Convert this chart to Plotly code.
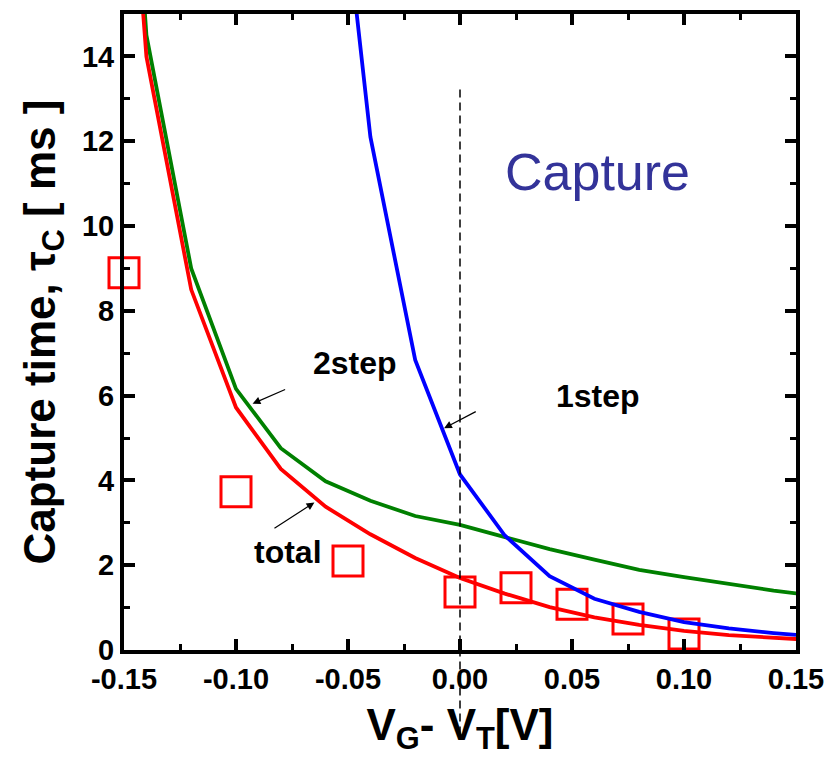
import plotly.graph_objects as go

# Gate overdrive grid for the model curves (V)
v_grid = [-0.16, -0.14, -0.12, -0.10, -0.08, -0.06, -0.04, -0.02, 0.00,
          0.02, 0.04, 0.06, 0.08, 0.10, 0.12, 0.14, 0.16]
# Model capture times (ms)
tau_total = [28.0, 14.0, 8.5, 5.72, 4.27, 3.38, 2.73, 2.17, 1.70,
             1.33, 1.01, 0.77, 0.59, 0.45, 0.35, 0.28, 0.23]
tau_2step = [30.0, 14.5, 9.0, 6.16, 4.76, 3.98, 3.52, 3.16, 2.95,
             2.67, 2.38, 2.13, 1.89, 1.72, 1.55, 1.40, 1.27]
v_1step = [-0.06, -0.04, -0.02, 0.00, 0.02, 0.04, 0.06, 0.08, 0.10, 0.12, 0.14, 0.16]
tau_1step = [21.6, 12.1, 6.84, 4.14, 2.70, 1.74, 1.21, 0.90, 0.66, 0.51, 0.40, 0.31]

# Measured capture times (ms)
v_meas = [-0.15, -0.10, -0.05, 0.0, 0.025, 0.05, 0.075, 0.10]
tau_meas = [8.9, 3.73, 2.10, 1.37, 1.47, 1.08, 0.73, 0.38]

# Axis ticks
x_ticks = [-0.15, -0.10, -0.05, 0.00, 0.05, 0.10, 0.15]
x_ticktext = ["-0.15", "-0.10", "-0.05", "0.00", "0.05", "0.10", "0.15"]
y_ticks = [0, 2, 4, 6, 8, 10, 12, 14]
y_ticktext = ["0", "2", "4", "6", "8", "10", "12", "14"]

X_RANGE = [-0.15, 0.15]
Y_RANGE = [0, 15]
DASH_TOP = 13.3  # upper end of the V_G = V_T marker line

FONT = "Liberation Sans, Arial, sans-serif"

fig = go.Figure()

fig.add_trace(go.Scatter(x=v_meas, y=tau_meas, mode="markers",
                         marker=dict(symbol="square-open", size=30, color="#ff0000",
                                     line=dict(width=3, color="#ff0000")),
                         cliponaxis=False, name="measured"))
fig.add_trace(go.Scatter(x=v_grid, y=tau_2step, mode="lines",
                         line=dict(color="#008000", width=3.8), name="2step"))
fig.add_trace(go.Scatter(x=v_grid, y=tau_total, mode="lines",
                         line=dict(color="#ff0000", width=3.8), name="total"))
fig.add_trace(go.Scatter(x=v_1step, y=tau_1step, mode="lines",
                         line=dict(color="#0000ff", width=3.8), name="1step"))

# Dashed marker at V_G = V_T, running down through the axis title
fig.add_shape(type="line", xref="x", yref="paper",
              x0=0, x1=0, y0=-0.133, y1=DASH_TOP / Y_RANGE[1],
              line=dict(color="black", width=1.5, dash="8px,5px"))

bold = dict(family=FONT, size=32, color="black", weight="bold")
labels = [
    ("2step", -0.0467, 6.77),
    ("1step", 0.0614, 6.00),
    ("total", -0.0770, 2.30),
]
for txt, x, y in labels:
    fig.add_annotation(x=x, y=y, xref="x", yref="y", text=txt, showarrow=False,
                       font=bold, xanchor="center", yanchor="middle")

fig.add_annotation(x=0.0614, y=11.27, xref="x", yref="y", text="Capture",
                   showarrow=False, font=dict(family=FONT, size=52, color="#333399"),
                   xanchor="center", yanchor="middle")

# Pointer arrows: (tail x, tail y, head x, head y)
arrows = [
    (-0.0774, 6.16, -0.0926, 5.81),
    (0.0077, 5.64, -0.0071, 5.23),
    (-0.0835, 2.85, -0.0650, 3.48),
]
for tx, ty, hx, hy in arrows:
    fig.add_annotation(x=hx, y=hy, ax=tx, ay=ty, xref="x", yref="y",
                       axref="x", ayref="y", text="", showarrow=True,
                       arrowhead=2, arrowsize=1.3, arrowwidth=1.2,
                       arrowcolor="black", standoff=0)

axis_common = dict(
    showgrid=False, zeroline=False, showline=True, linecolor="black", linewidth=4,
    mirror="ticks", ticks="inside", ticklen=11, tickwidth=3.5, tickcolor="black",
    tickfont=dict(family=FONT, size=29, color="black", weight="bold"),
)

fig.update_xaxes(
    range=X_RANGE, tickmode="array", tickvals=x_ticks, ticktext=x_ticktext,
    minor=dict(ticks="inside", ticklen=6, tickwidth=3, tickcolor="black", dtick=0.025,
               tick0=0, showgrid=False),
    title=dict(text="V<sub>G</sub>- V<sub>T</sub>[V]",
               font=dict(family=FONT, size=44, color="black", weight="bold"),
               standoff=16),
    **axis_common,
)
fig.update_yaxes(
    range=Y_RANGE, tickmode="array", tickvals=y_ticks, ticktext=y_ticktext,
    minor=dict(ticks="inside", ticklen=6, tickwidth=3, tickcolor="black", dtick=1,
               tick0=0, showgrid=False),
    title=dict(text="Capture time, \u03c4<sub>C</sub> [ ms ]",
               font=dict(family=FONT, size=44, color="black", weight="bold"),
               standoff=14),
    **axis_common,
)

fig.update_layout(
    width=834, height=767,
    margin=dict(l=124, r=36, t=10, b=117),
    paper_bgcolor="white", plot_bgcolor="white",
    showlegend=False,
)

fig.write_html("out.html")
